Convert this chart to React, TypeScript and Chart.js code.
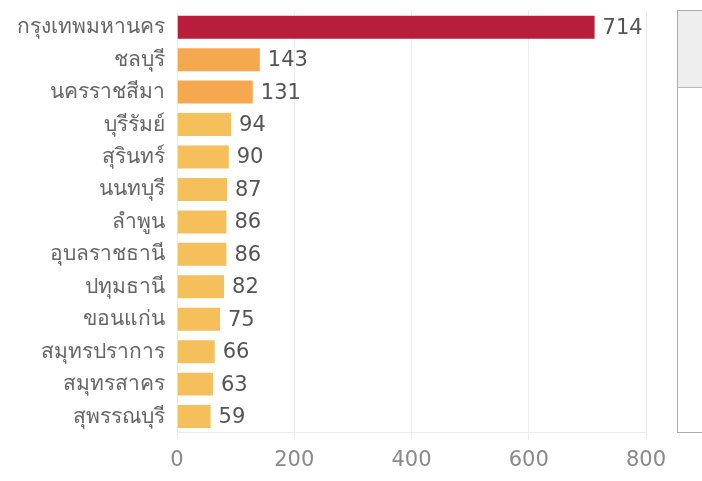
import React, { useEffect, useRef } from "react";
import { Chart, registerables } from "chart.js";

Chart.register(...registerables);

const provinces = [
  "กรุงเทพมหานคร",
  "ชลบุรี",
  "นครราชสีมา",
  "บุรีรัมย์",
  "สุรินทร์",
  "นนทบุรี",
  "ลำพูน",
  "อุบลราชธานี",
  "ปทุมธานี",
  "ขอนแก่น",
  "สมุทรปราการ",
  "สมุทรสาคร",
  "สุพรรณบุรี",
];
const cases = [714, 143, 131, 94, 90, 87, 86, 86, 82, 75, 66, 63, 59];
const barColors = [
  "#b81d3c",
  "#f5a850",
  "#f5a850",
  "#f5bf5b",
  "#f5bf5b",
  "#f5bf5b",
  "#f5bf5b",
  "#f5bf5b",
  "#f5bf5b",
  "#f5bf5b",
  "#f5bf5b",
  "#f5bf5b",
  "#f5bf5b",
];
const xTicks = [0, 200, 400, 600, 800];

const NUM_FONT = "'DejaVu Sans', sans-serif";
const LABEL_FONT = "'Noto Sans', 'DejaVu Sans', sans-serif";

const valueLabels = {
  id: "valueLabels",
  afterDatasetsDraw(chart: any) {
    const ctx = chart.ctx;
    const meta = chart.getDatasetMeta(0);
    ctx.save();
    ctx.font = `21px ${NUM_FONT}`;
    ctx.fillStyle = "#555555";
    ctx.textAlign = "left";
    ctx.textBaseline = "middle";
    meta.data.forEach((bar: any, i: number) => {
      ctx.fillText(String(cases[i]), bar.x + 7, bar.y + 1);
    });
    ctx.restore();
  },
};

export default function App() {
  const ref = useRef<HTMLCanvasElement | null>(null);
  useEffect(() => {
    if (!ref.current) return;
    const chart = new Chart(ref.current, {
      type: "bar",
      data: {
        labels: provinces,
        datasets: [
          {
            data: cases,
            backgroundColor: barColors,
            borderColor: "rgba(255,255,255,0.35)",
            borderWidth: 1,
            categoryPercentage: 1,
            barPercentage: 0.77,
          },
        ],
      },
      options: {
        indexAxis: "y",
        responsive: false,
        animation: false,
        maintainAspectRatio: false,
        layout: { padding: { top: 11, bottom: 0, left: 0, right: 56 } },
        plugins: {
          legend: { display: false },
          tooltip: { enabled: false },
        },
        scales: {
          x: {
            min: 0,
            max: 800,
            afterBuildTicks: (scale: any) => {
              scale.ticks = xTicks.map((v) => ({ value: v }));
            },
            afterFit: (scale: any) => {
              scale.paddingLeft = 0;
              scale.paddingRight = 0;
            },
            grid: {
              color: "#ececec",
              tickLength: 7,
              drawTicks: true,
            },
            border: { display: true, color: "#ececec" },
            ticks: {
              color: "#8a8a8a",
              padding: 8,
              font: { family: NUM_FONT, size: 21 },
            },
          },
          y: {
            afterFit: (scale: any) => {
              scale.width = 177;
              scale.paddingTop = 0;
              scale.paddingBottom = 0;
            },
            grid: { display: false, drawTicks: false },
            border: { display: false },
            ticks: {
              color: "#666666",
              padding: 12,
              font: { family: LABEL_FONT, size: 21 },
            },
          },
        },
      },
      plugins: [valueLabels],
    } as any);
    return () => chart.destroy();
  }, []);

  return (
    <div
      style={{
        position: "fixed",
        left: 0,
        top: 0,
        width: 702,
        height: 481,
        background: "#fff",
      }}
    >
      <canvas ref={ref} width={702} height={481} style={{ display: "block" }} />
      <div
        style={{
          position: "absolute",
          left: 677,
          top: 10,
          width: 40,
          height: 423,
          border: "1.5px solid #aaaaaa",
          boxSizing: "border-box",
          background: "#fff",
        }}
      >
        <div style={{ height: 76, background: "#eeeeee", borderBottom: "1.5px solid #bbbbbb" }} />
      </div>
    </div>
  );
}
